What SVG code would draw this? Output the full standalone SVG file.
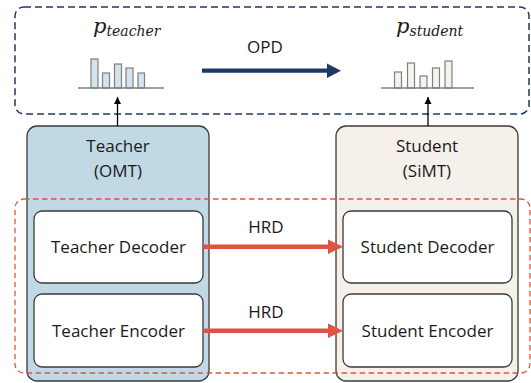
<svg xmlns="http://www.w3.org/2000/svg" width="531" height="383" viewBox="0 0 531 383">
  <style>
    .lbl { font-family: "Open Sans", "Liberation Sans", sans-serif; font-size: 17px; fill: #1a1a1a; text-anchor: middle; }
    .math { font-family: "DejaVu Serif", "Liberation Serif", serif; font-style: italic; fill: #1a1a1a; }
    .inner { fill: #ffffff; stroke: #3a3a3a; stroke-width: 1.3; }
    .tbar { fill: #d3e4ee; stroke: #7f7f7f; stroke-width: 1.2; }
    .sbar { fill: #f6f2ec; stroke: #7f7f7f; stroke-width: 1.2; }
    .axis { stroke: #808080; stroke-width: 1.5; }
    .hrd { stroke: #dc5540; stroke-width: 4.5; fill: none; }
  </style>
  <defs>
    <marker id="headBlack" markerWidth="8" markerHeight="8" refX="7" refY="4" orient="auto" markerUnits="userSpaceOnUse">
      <path d="M0,0.5 L7,4 L0,7.5 Z" fill="#000"/>
    </marker>
  </defs>

  <!-- output distribution panel -->
  <rect x="15" y="7" width="514" height="107" rx="9" fill="none" stroke="#1f3864" stroke-width="1.5" stroke-dasharray="7,4"/>

  <!-- teacher model -->
  <g id="teacher">
    <rect x="27" y="126" width="182" height="255" rx="10" fill="#c1d9e4" stroke="#3a3a3a" stroke-width="1.3"/>
    <text class="lbl" x="118" y="152">Teacher</text>
    <text class="lbl" x="118" y="177">(OMT)</text>
  </g>

  <!-- student model -->
  <g id="student">
    <rect x="336" y="126" width="182" height="255" rx="10" fill="#f5f0e9" stroke="#3a3a3a" stroke-width="1.3"/>
    <text class="lbl" x="427" y="152">Student</text>
    <text class="lbl" x="427" y="177">(SiMT)</text>
  </g>

  <!-- hidden representation region -->
  <rect x="15" y="199" width="515" height="174" rx="9" fill="none" stroke="#dc5540" stroke-width="1.3" stroke-dasharray="5.5,3.5"/>

  <g id="teacher-decoder">
    <rect class="inner" x="34" y="211" width="169" height="72" rx="8"/>
    <text class="lbl" x="118.5" y="253">Teacher Decoder</text>
  </g>
  <g id="teacher-encoder">
    <rect class="inner" x="34" y="294" width="169" height="73" rx="8"/>
    <text class="lbl" x="118.5" y="337">Teacher Encoder</text>
  </g>
  <g id="student-decoder">
    <rect class="inner" x="343" y="211" width="169" height="72" rx="8"/>
    <text class="lbl" x="427.5" y="253">Student Decoder</text>
  </g>
  <g id="student-encoder">
    <rect class="inner" x="343" y="294" width="169" height="73" rx="8"/>
    <text class="lbl" x="427.5" y="337">Student Encoder</text>
  </g>

  <!-- teacher output distribution -->
  <g id="p-teacher">
    <text class="math" x="93" y="33"><tspan font-size="21">p</tspan><tspan font-size="14" dy="3">teacher</tspan></text>
    <rect class="tbar" x="91" y="59" width="7" height="29"/>
    <rect class="tbar" x="102.5" y="73" width="7" height="15"/>
    <rect class="tbar" x="114.5" y="64" width="7" height="24"/>
    <rect class="tbar" x="126" y="68" width="7" height="20"/>
    <rect class="tbar" x="138" y="73" width="6.5" height="15"/>
    <line class="axis" x1="78" y1="88" x2="164" y2="88"/>
  </g>

  <!-- student output distribution -->
  <g id="p-student">
    <text class="math" x="396" y="33"><tspan font-size="21">p</tspan><tspan font-size="14" dy="3">student</tspan></text>
    <rect class="sbar" x="394.5" y="72" width="7" height="16"/>
    <rect class="sbar" x="407.5" y="63" width="7" height="25"/>
    <rect class="sbar" x="420" y="76" width="7" height="12"/>
    <rect class="sbar" x="432.5" y="68" width="7" height="20"/>
    <rect class="sbar" x="445" y="61" width="7" height="27"/>
    <line class="axis" x1="381" y1="88" x2="474" y2="88"/>
  </g>

  <!-- connectors -->
  <g id="connectors">
    <line x1="117.5" y1="126" x2="117.5" y2="97" stroke="#000" stroke-width="1.3" marker-end="url(#headBlack)"/>
    <line x1="428" y1="126" x2="428" y2="97" stroke="#000" stroke-width="1.3" marker-end="url(#headBlack)"/>

    <line x1="202" y1="70.7" x2="328" y2="70.7" stroke="#1f3864" stroke-width="4.3"/>
    <path d="M327,63.5 L341,70.7 L327,78 Z" fill="#1f3864"/>
    <text class="lbl" x="265" y="53">OPD</text>

    <line class="hrd" x1="203" y1="246.7" x2="329" y2="246.7"/>
    <path d="M328,239.5 L343,246.7 L328,254 Z" fill="#dc5540"/>
    <text class="lbl" x="266" y="233">HRD</text>

    <line class="hrd" x1="203" y1="330.7" x2="329" y2="330.7"/>
    <path d="M328,323.5 L343,330.7 L328,338 Z" fill="#dc5540"/>
    <text class="lbl" x="266" y="318">HRD</text>
  </g>
</svg>
